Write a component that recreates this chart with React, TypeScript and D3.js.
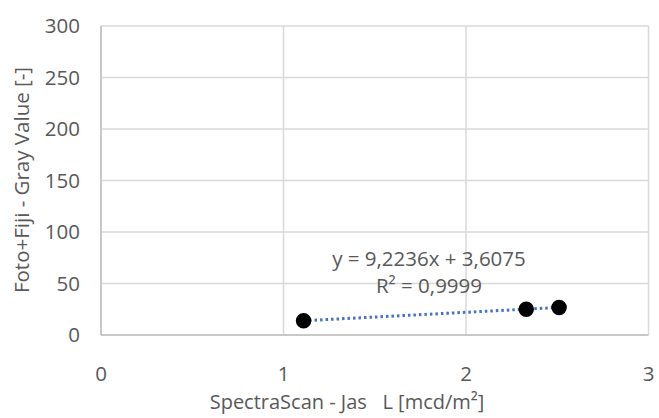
import React from "react";
import * as d3 from "d3";

const xValues = [1.11, 2.33, 2.51];
const yValues = [13.9, 25.1, 26.8];
const xTicks = [0, 1, 2, 3];
const yTicks = [0, 50, 100, 150, 200, 250, 300];
const slope = 9.2236;
const intercept = 3.6075;
const equationText = "y = 9,2236x + 3,6075";
const r2Text = "R² = 0,9999";
const xTitle = "SpectraScan - Jas   L [mcd/m²]";
const yTitle = "Foto+Fiji - Gray Value [-]";

const W = 659;
const H = 418;
const left = 101;
const right = 648.5;
const top = 26;
const bottom = 335;
const font = "'Open Sans', 'Noto Sans', sans-serif";
const textColor = "#595959";
const fs = 20.5;

export default function App() {
  const x = d3.scaleLinear().domain([0, 3]).range([left, right]);
  const y = d3.scaleLinear().domain([0, 300]).range([bottom, top]);
  const xMin = d3.min(xValues)!;
  const xMax = d3.max(xValues)!;
  const line = d3
    .line<number>()
    .x((d) => x(d))
    .y((d) => y(slope * d + intercept));
  return (
    <svg
      width={W}
      height={H}
      style={{ position: "absolute", left: 0, top: 0, background: "#fff" }}
      fontFamily={font}
    >
      {yTicks.map((t) => (
        <line key={"gy" + t} x1={left} x2={right} y1={y(t)} y2={y(t)} stroke="#d9d9d9" strokeWidth={1.5} />
      ))}
      {xTicks.map((t) => (
        <line key={"gx" + t} x1={x(t)} x2={x(t)} y1={top} y2={bottom} stroke="#d9d9d9" strokeWidth={1.5} />
      ))}
      <line x1={left} x2={right} y1={bottom} y2={bottom} stroke="#bfbfbf" strokeWidth={1.5} />
      <line x1={left} x2={left} y1={top} y2={bottom} stroke="#bfbfbf" strokeWidth={1.5} />
      {yTicks.map((t) => (
        <text key={"ty" + t} x={80} y={y(t)} dy="0.35em" textAnchor="end" fontSize={fs} fill={textColor}>
          {t}
        </text>
      ))}
      {xTicks.map((t) => (
        <text key={"tx" + t} x={x(t)} y={374} dy="0.35em" textAnchor="middle" fontSize={fs} fill={textColor}>
          {t}
        </text>
      ))}
      <text
        x={347}
        y={402}
        dy="0.35em"
        textAnchor="middle"
        fontSize={20}
        fill={textColor}
        style={{ whiteSpace: "pre" }}
      >
        {xTitle}
      </text>
      <text
        transform={`translate(22,180) rotate(-90)`}
        dy="0.35em"
        textAnchor="middle"
        fontSize={fs}
        fill={textColor}
      >
        {yTitle}
      </text>
      <path
        d={line([xMin, xMax]) || ""}
        fill="none"
        stroke="#4472C4"
        strokeWidth={3}
        strokeDasharray="2.5 3"
      />
      {xValues.map((v, i) => (
        <circle key={"p" + i} cx={x(v)} cy={y(yValues[i])} r={7} fill="#000" stroke="#000" strokeWidth={1.5} />
      ))}
      <text x={429} y={259} dy="0.35em" textAnchor="middle" fontSize={fs} fill={textColor}>
        {equationText}
      </text>
      <text x={429} y={286} dy="0.35em" textAnchor="middle" fontSize={fs} fill={textColor}>
        {r2Text}
      </text>
    </svg>
  );
}
